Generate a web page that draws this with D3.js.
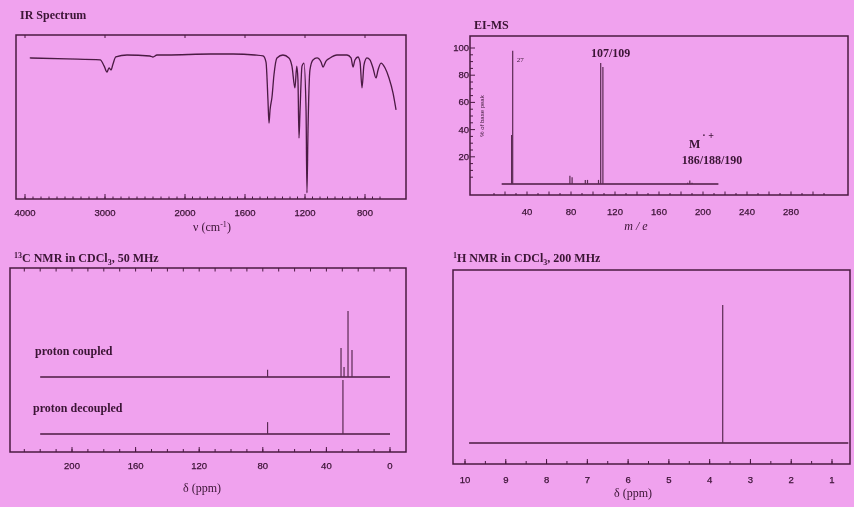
<!DOCTYPE html>
<html lang="en">
<head>
<meta charset="UTF-8">
<title>Spectra</title>
<style>
  body { margin: 0; padding: 0; overflow: hidden; background: #f0a2ee; }
  svg { display: block; }
  .title { font-family: "Liberation Serif", serif; font-weight: bold; font-size: 12px; fill: #3a1434; }
  .tick-label { font-family: "Liberation Sans", Arial, sans-serif; font-size: 9.5px; fill: #3a1434; stroke: #3a1434; stroke-width: 0.25; }
  .axis-title { font-family: "Liberation Serif", serif; font-size: 12px; fill: #3a1434; }
  .frame { fill: none; stroke: #4a1a42; stroke-width: 1.5; }
  .tick { stroke: #4a1a42; stroke-width: 1; }
  .trace { fill: none; stroke: #4a1a42; stroke-width: 1.3; }
  .peak { stroke: #5a2a52; stroke-width: 1.2; }
</style>
</head>
<body>
<svg id="chart" width="854" height="507"></svg>
<script src="https://d3js.org/d3.v7.min.js"></script>
<script>
// ---- IR spectrum (wavenumber cm-1, % transmittance) ----
const irWavenumber = [3940, 3475, 3060, 3010, 2975, 2950, 2925, 2900, 2865, 2725, 2440, 2400, 2350, 2225,
  1830, 1680, 1535, 1480, 1460, 1447, 1440, 1433, 1420, 1407, 1387, 1347, 1307, 1287, 1267, 1255, 1247,
  1240, 1233, 1220, 1207, 1193, 1187, 1180, 1167, 1147, 1120, 1093, 1080, 1060, 1033, 987, 920, 893, 880,
  867, 847, 833, 820, 807, 787, 767, 747, 727, 713, 693, 667, 640, 613, 593];
const irTransmittance = [86, 85.4, 84.8, 81, 77.4, 80, 78.7, 82.3, 86.6, 87.8, 87.2, 86.6, 87.8, 87.8,
  88.4, 88.4, 87.8, 87.2, 83.5, 60.4, 46.3, 54.3, 62.2, 75.6, 86, 87.8, 86, 81, 67.7, 81, 72.6,
  37.2, 54.3, 81, 82.9, 54.3, 3.7, 42.1, 78.7, 84.8, 86, 83.5, 80.5, 84.1, 86, 87.8, 87.8, 86, 80.5,
  84.8, 86.6, 83.5, 67.7, 81.7, 86, 84.8, 80, 73.8, 78.7, 82.9, 80, 73.8, 64.6, 54.3];
const irTicks = [4000, 3000, 2000, 1600, 1200, 800];

// ---- EI mass spectrum (m/z, % of base peak) ----
const msMz = [26, 27, 79, 81, 93, 95, 105, 107, 109, 186, 188, 190];
const msIntensity = [36, 98, 6, 5, 3, 3, 3, 89, 86, 1, 2.5, 1];
const msXTicks = [40, 80, 120, 160, 200, 240, 280];
const msYTicks = [20, 40, 60, 80, 100];

// ---- 13C NMR (ppm, relative height) ----
const c13Ticks = [200, 160, 120, 80, 40, 0];
const coupledShift = [77, 30.8, 28.9, 26.4, 23.9];
const coupledIntensity = [11, 44, 15, 100, 41];
const decoupledShift = [77, 29.6];
const decoupledIntensity = [18, 82];

// ---- 1H NMR (ppm, relative height) ----
const h1Ticks = [10, 9, 8, 7, 6, 5, 4, 3, 2, 1];
const h1Shift = [3.68];
const h1Intensity = [100];

const svg = d3.select("#chart");
svg.append("rect").attr("width", 854).attr("height", 507).attr("fill", "#f0a2ee");

// soft blur, the original is a photographed page
svg.append("defs").append("filter").attr("id", "soft")
  .append("feGaussianBlur").attr("stdDeviation", 0.35);
const root = svg.append("g").attr("filter", "url(#soft)");

// small helpers
function frame(g, x0, x1, y0, y1) {
  g.append("rect").attr("class", "frame")
    .attr("x", x0).attr("y", y0).attr("width", x1 - x0).attr("height", y1 - y0);
}
function vticks(g, scale, values, y, len) {
  g.selectAll(null).data(values).enter().append("line")
    .attr("class", "tick")
    .attr("x1", d => scale(d)).attr("x2", d => scale(d))
    .attr("y1", y).attr("y2", y + len);
}
function vlabels(g, scale, values, y) {
  g.selectAll(null).data(values).enter().append("text")
    .attr("class", "tick-label")
    .attr("text-anchor", "middle")
    .attr("x", d => scale(d)).attr("y", y)
    .text(d => d);
}

// ================= IR =================
const ir = root.append("g");
const irX = d3.scaleLinear().domain([4000, 2000, 600]).range([25, 185, 395]);
const irY = d3.scaleLinear().domain([0, 100]).range([199, 35]);
ir.append("text").attr("class", "title").attr("x", 20).attr("y", 19).text("IR Spectrum");
frame(ir, 16, 406, 35, 199);
vticks(ir, irX, d3.range(4000, 2000, -100), 199, -2.5);
vticks(ir, irX, d3.range(2000, 650, -50), 199, -2.5);
vticks(ir, irX, irTicks, 199, -5);
vticks(ir, irX, irTicks, 35, 3);
vlabels(ir, irX, irTicks, 216);
ir.append("text").attr("class", "axis-title").attr("text-anchor", "middle")
  .attr("x", 212).attr("y", 231)
  .call(t => {
    t.append("tspan").text("ν (cm");
    t.append("tspan").attr("dy", -4).attr("font-size", 8).text("-1");
    t.append("tspan").attr("dy", 4).text(")");
  });
const irLine = d3.line()
  .x(d => irX(d[0]))
  .y(d => irY(d[1]))
  .curve(d3.curveMonotoneX);
ir.append("path").attr("class", "trace").attr("d", irLine(d3.zip(irWavenumber, irTransmittance)));

// ================= EI-MS =================
const ms = root.append("g");
const msX = d3.scaleLinear().domain([0, 280]).range([483, 791]);
const msY = d3.scaleLinear().domain([0, 100]).range([184, 48]);
ms.append("text").attr("class", "title").attr("x", 474).attr("y", 29).text("EI-MS");
frame(ms, 470, 848, 36, 195);
vticks(ms, msX, d3.range(20, 320, 20), 195, -3.5);
vticks(ms, msX, d3.range(10, 320, 20), 195, -2);
vlabels(ms, msX, msXTicks, 215);
// y axis ticks inward on the left edge
ms.selectAll(null).data(d3.range(5, 101, 5)).enter().append("line")
  .attr("class", "tick")
  .attr("x1", 470).attr("x2", d => msYTicks.includes(d) ? 475 : 473)
  .attr("y1", d => msY(d)).attr("y2", d => msY(d));
ms.selectAll(null).data(msYTicks).enter().append("text")
  .attr("class", "tick-label").attr("text-anchor", "end")
  .attr("x", 469).attr("y", d => msY(d) + 3).text(d => d);
ms.append("text")
  .attr("transform", `translate(484,${msY(50)}) rotate(-90)`)
  .attr("text-anchor", "middle")
  .attr("font-family", "Liberation Sans, Arial, sans-serif").attr("font-size", 6).attr("fill", "#3a1434")
  .text("% of base peak");
ms.append("text").attr("class", "axis-title").attr("text-anchor", "middle")
  .attr("font-style", "italic").attr("font-size", 10)
  .attr("x", 636).attr("y", 230).text("m / e");
ms.append("line").attr("class", "trace")
  .attr("x1", msX(17)).attr("x2", msX(214)).attr("y1", msY(0)).attr("y2", msY(0));
ms.selectAll(null).data(d3.zip(msMz, msIntensity)).enter().append("line")
  .attr("class", "peak")
  .attr("stroke", d => d[1] > 50 ? "#7a4a72" : "#4a1a42")
  .attr("stroke-width", d => d[1] > 50 ? 1 : 1.6)
  .attr("x1", d => msX(d[0])).attr("x2", d => msX(d[0]))
  .attr("y1", msY(0)).attr("y2", d => msY(d[1]));
ms.append("text").attr("x", msX(27) + 4).attr("y", msY(90))
  .attr("font-family", "Liberation Serif, serif").attr("font-size", 7).attr("fill", "#3a1434").text("27");
ms.append("text").attr("class", "title").attr("font-size", 13).attr("text-anchor", "middle")
  .attr("x", msX(107) + 10).attr("y", 57).text("107/109");
ms.append("text").attr("class", "title").attr("font-size", 12)
  .attr("x", 689).attr("y", 148)
  .call(t => {
    t.append("tspan").text("M");
    t.append("tspan").attr("dx", 2).attr("dy", -9).attr("font-size", 10).text("· +");
  });
ms.append("text").attr("class", "title").attr("font-size", 13).attr("text-anchor", "middle")
  .attr("x", 712).attr("y", 164).text("186/188/190");

// ================= 13C NMR =================
const c13 = root.append("g");
const cX = d3.scaleLinear().domain([200, 0]).range([72, 390]);
const cH = d3.scaleLinear().domain([0, 100]).range([0, 66]);
c13.append("text").attr("class", "title").attr("x", 14).attr("y", 262)
  .call(t => {
    t.append("tspan").attr("font-size", 8).attr("dy", -4).text("13");
    t.append("tspan").attr("dy", 4).text("C NMR in CDCl");
    t.append("tspan").attr("font-size", 8).attr("dy", 3).text("3");
    t.append("tspan").attr("dy", -3).text(", 50 MHz");
  });
frame(c13, 10, 406, 268, 452);
vticks(c13, cX, d3.range(230, -10, -10), 452, -3);
vticks(c13, cX, c13Ticks, 452, -5);
vticks(c13, cX, d3.range(230, -10, -10), 268, 3.5);
vlabels(c13, cX, c13Ticks, 469);
c13.append("text").attr("class", "axis-title").attr("text-anchor", "middle")
  .attr("x", 202).attr("y", 492).text("δ (ppm)");

function nmrTrace(g, xs, base, from, to, shifts, heights, hScale) {
  g.append("line").attr("class", "trace").attr("stroke-width", 1)
    .attr("x1", xs(from)).attr("x2", xs(to)).attr("y1", base).attr("y2", base);
  g.selectAll(null).data(d3.zip(shifts, heights)).enter().append("line")
    .attr("class", "peak")
    .attr("stroke-width", d => d[1] < 20 ? 2 : 1)
    .attr("stroke", d => d[1] < 20 ? "#4a1a42" : "#6a3a62")
    .attr("x1", d => xs(d[0])).attr("x2", d => xs(d[0]))
    .attr("y1", base).attr("y2", d => base - hScale(d[1]));
}
c13.append("text").attr("class", "title").attr("font-size", 11).attr("x", 35).attr("y", 355).text("proton coupled");
nmrTrace(c13, cX, 377, 220, 0, coupledShift, coupledIntensity, cH);
c13.append("text").attr("class", "title").attr("font-size", 11).attr("x", 33).attr("y", 412).text("proton decoupled");
nmrTrace(c13, cX, 434, 220, 0, decoupledShift, decoupledIntensity, cH);

// ================= 1H NMR =================
const h1 = root.append("g");
const hX = d3.scaleLinear().domain([10, 1]).range([465, 832]);
const hH = d3.scaleLinear().domain([0, 100]).range([0, 138]);
h1.append("text").attr("class", "title").attr("x", 453).attr("y", 262)
  .call(t => {
    t.append("tspan").attr("font-size", 8).attr("dy", -4).text("1");
    t.append("tspan").attr("dy", 4).text("H NMR in CDCl");
    t.append("tspan").attr("font-size", 8).attr("dy", 3).text("3");
    t.append("tspan").attr("dy", -3).text(", 200 MHz");
  });
frame(h1, 453, 850, 270, 464);
vticks(h1, hX, d3.range(10, 0.9, -0.5), 464, -3);
vticks(h1, hX, h1Ticks, 464, -5);
vlabels(h1, hX, h1Ticks, 483);
h1.append("text").attr("class", "axis-title").attr("text-anchor", "middle")
  .attr("x", 633).attr("y", 497).text("δ (ppm)");
nmrTrace(h1, hX, 443, 9.9, 0.6, h1Shift, h1Intensity, hH);
</script>
</body>
</html>
